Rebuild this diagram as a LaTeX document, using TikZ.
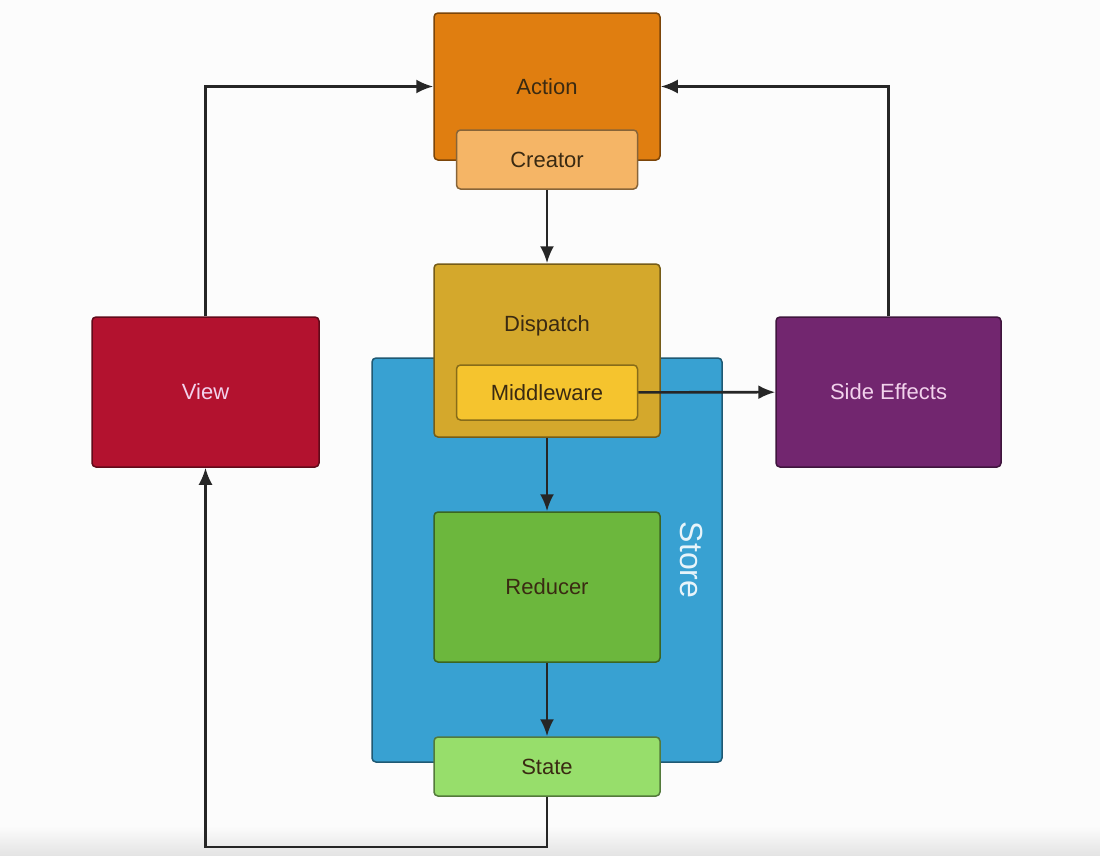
\documentclass[tikz,border=0pt]{standalone}
\usepackage{fontspec}
\setmainfont{Liberation Sans}
\usetikzlibrary{arrows.meta}

\definecolor{bgcol}{HTML}{FCFCFC}
\definecolor{bandcol}{HTML}{E4E4E4}
\definecolor{actioncol}{HTML}{E07E10}
\definecolor{creatorcol}{HTML}{F5B566}
\definecolor{dispatchcol}{HTML}{D4A82C}
\definecolor{middlecol}{HTML}{F5C42E}
\definecolor{storecol}{HTML}{38A1D2}
\definecolor{reducercol}{HTML}{6CB73D}
\definecolor{statecol}{HTML}{97DE6B}
\definecolor{viewcol}{HTML}{B3122F}
\definecolor{effectcol}{HTML}{72266F}
\definecolor{darktext}{HTML}{3A2A12}
\definecolor{lighttext}{HTML}{F2D2EC}

\tikzset{
  box/.style={draw=#1!55!black, fill=#1, line width=1.5pt, rounded corners=4pt,
    inner sep=0pt, font=\fontsize{22}{26}\selectfont, text=darktext},
  flow/.style={-{Latex[length=17pt,width=14pt]}, line width=2.6pt, black!85},
}

\begin{document}
\begin{tikzpicture}[x=1pt,y=-1pt]
	% fundo
	\fill[bgcol] (0,0) rectangle (1100,855);
	\shade[top color=bgcol, bottom color=bandcol] (0,826) rectangle (1100,855);
	\useasboundingbox (0,0) rectangle (1100,855);
	% action
	\node[box=actioncol, minimum width=226pt, minimum height=147pt] (action) at (547,86.5) {Action};
	\node[box=creatorcol, minimum width=181pt, minimum height=59pt] (creator) at (547,159.5) {Creator};
	% store
	\node[box=storecol, minimum width=350pt, minimum height=404pt] (store) at (547,560) {};
	\node[rotate=-90, text=white!88!storecol, font=\fontsize{32}{36}\selectfont] (storelabel) at (692,560) {Store};
	% dispatch
	\node[box=dispatchcol, minimum width=226pt, minimum height=173pt,
	  label={[font=\fontsize{22}{26}\selectfont, text=darktext]center:{\raisebox{54pt}{Dispatch}}}] (dispatch) at (547,350.5) {};
	\node[box=middlecol, minimum width=181pt, minimum height=55pt] (middleware) at (547,392.5) {Middleware};
	% reducer e state
	\node[box=reducercol, minimum width=226pt, minimum height=150pt] (reducer) at (547,587) {Reducer};
	\node[box=statecol, minimum width=226pt, minimum height=59pt] (state) at (547,766.5) {State};
	% view e side effects
	\node[box=viewcol, text=lighttext, minimum width=227pt, minimum height=150pt] (view) at (205.5,392) {View};
	\node[box=effectcol, text=lighttext, minimum width=225pt, minimum height=150pt] (effects) at (888.5,392) {Side Effects};
	% setas
	\draw[flow] (creator) -- (dispatch);
	\draw[flow] (dispatch) -- (reducer);
	\draw[flow] (reducer) -- (state);
	\draw[flow] (middleware) -- (effects);
	\draw[flow] (view.north) |- (action.west);
	\draw[flow] (effects.north) |- (action.east);
	\coordinate (bottom) at (547,847);
	\draw[flow] (state.south) -- (bottom) -| (view.south);
\end{tikzpicture}
\end{document}
